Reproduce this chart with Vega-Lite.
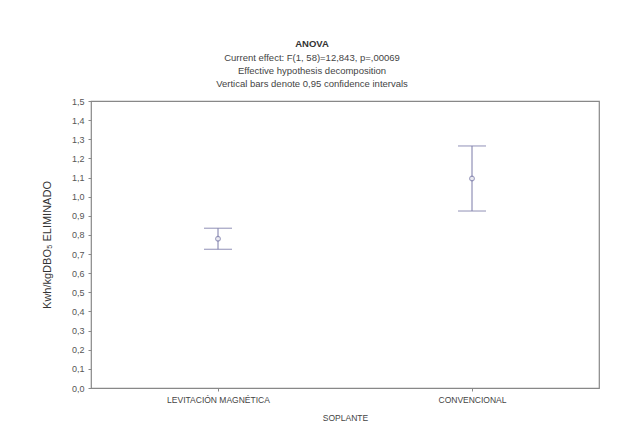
{
  "$schema": "https://vega.github.io/schema/vega-lite/v6.json",
  "width": 508,
  "height": 287,
  "autosize": "none",
  "padding": {"left": 91, "top": 101, "right": 26, "bottom": 44},
  "background": "white",
  "title": {
    "text": "ANOVA",
    "subtitle": ["Current effect: F(1, 58)=12,843, p=,00069", "Effective hypothesis decomposition", "Vertical bars denote 0,95 confidence intervals"],
    "anchor": "middle",
    "frame": "group",
    "dx": -33,
    "offset": 9,
    "font": "Liberation Sans",
    "fontSize": 9.5,
    "fontWeight": "bold",
    "color": "#333",
    "subtitleFont": "Liberation Sans",
    "subtitleFontSize": 9.5,
    "subtitleColor": "#444",
    "subtitlePadding": 4,
    "subtitleLineHeight": 13
  },
  "data": {
    "values": [
      {"soplante": "LEVITACIÓN MAGNÉTICA", "mean": 0.78, "lo": 0.725, "hi": 0.835},
      {"soplante": "CONVENCIONAL", "mean": 1.095, "lo": 0.925, "hi": 1.265}
    ]
  },
  "encoding": {
    "x": {
      "field": "soplante",
      "type": "nominal",
      "sort": ["LEVITACIÓN MAGNÉTICA", "CONVENCIONAL"],
      "scale": {"type": "point", "padding": 0.5},
      "axis": {
        "title": "SOPLANTE",
        "labelAngle": 0,
        "labelFontSize": 8.5,
        "labelFont": "Liberation Sans",
        "labelColor": "#444",
        "titleFont": "Liberation Sans",
        "titleFontSize": 8.5,
        "titleFontWeight": "normal",
        "titleColor": "#444",
        "titlePadding": 10,
        "tickSize": 3,
        "tickColor": "#888",
        "domain": false,
        "labelPadding": 4
      }
    }
  },
  "layer": [
    {
      "mark": {"type": "rule", "color": "#7a7aa8", "strokeWidth": 1},
      "encoding": {
        "y": {
          "field": "lo",
          "type": "quantitative",
          "title": "Kwh/kgDBO₅ ELIMINADO",
          "scale": {"domain": [0, 1.5], "nice": false},
          "axis": {"values": [0, 0.1, 0.2, 0.3, 0.4, 0.5, 0.6, 0.7, 0.8, 0.9, 1.0, 1.1, 1.2, 1.3, 1.4, 1.5]}
        },
        "y2": {"field": "hi"}
      }
    },
    {
      "mark": {"type": "tick", "color": "#7a7aa8", "size": 28, "thickness": 1.2},
      "encoding": {"y": {"field": "lo", "type": "quantitative", "title": "Kwh/kgDBO₅ ELIMINADO", "axis": {"values": [0, 0.1, 0.2, 0.3, 0.4, 0.5, 0.6, 0.7, 0.8, 0.9, 1.0, 1.1, 1.2, 1.3, 1.4, 1.5]}}}
    },
    {
      "mark": {"type": "tick", "color": "#7a7aa8", "size": 28, "thickness": 1.2},
      "encoding": {"y": {"field": "hi", "type": "quantitative", "title": "Kwh/kgDBO₅ ELIMINADO", "axis": {"values": [0, 0.1, 0.2, 0.3, 0.4, 0.5, 0.6, 0.7, 0.8, 0.9, 1.0, 1.1, 1.2, 1.3, 1.4, 1.5]}}}
    },
    {
      "mark": {"type": "point", "shape": "circle", "filled": true, "fill": "white", "stroke": "#7a7aa8", "strokeWidth": 1.2, "size": 22},
      "encoding": {"y": {"field": "mean", "type": "quantitative", "title": "Kwh/kgDBO₅ ELIMINADO", "axis": {"values": [0, 0.1, 0.2, 0.3, 0.4, 0.5, 0.6, 0.7, 0.8, 0.9, 1.0, 1.1, 1.2, 1.3, 1.4, 1.5]}}}
    }
  ],
  "config": {
    "view": {"stroke": "#888", "strokeWidth": 1.2},
    "axisY": {
      "labelExpr": "replace(format(datum.value, '.1f'), '.', ',')",
      "labelOverlap": false,
      "labelBound": false,
      "labelFlush": false,
      "labelFontSize": 9,
      "labelFont": "Liberation Sans",
      "labelColor": "#555",
      "titleFont": "Liberation Sans",
      "titleFontSize": 11,
      "titleFontWeight": "normal",
      "titleColor": "#333",
      "titlePadding": 19,
      "tickSize": 3,
      "tickColor": "#888",
      "domain": false,
      "grid": false,
      "labelPadding": 4
    }
  }
}
